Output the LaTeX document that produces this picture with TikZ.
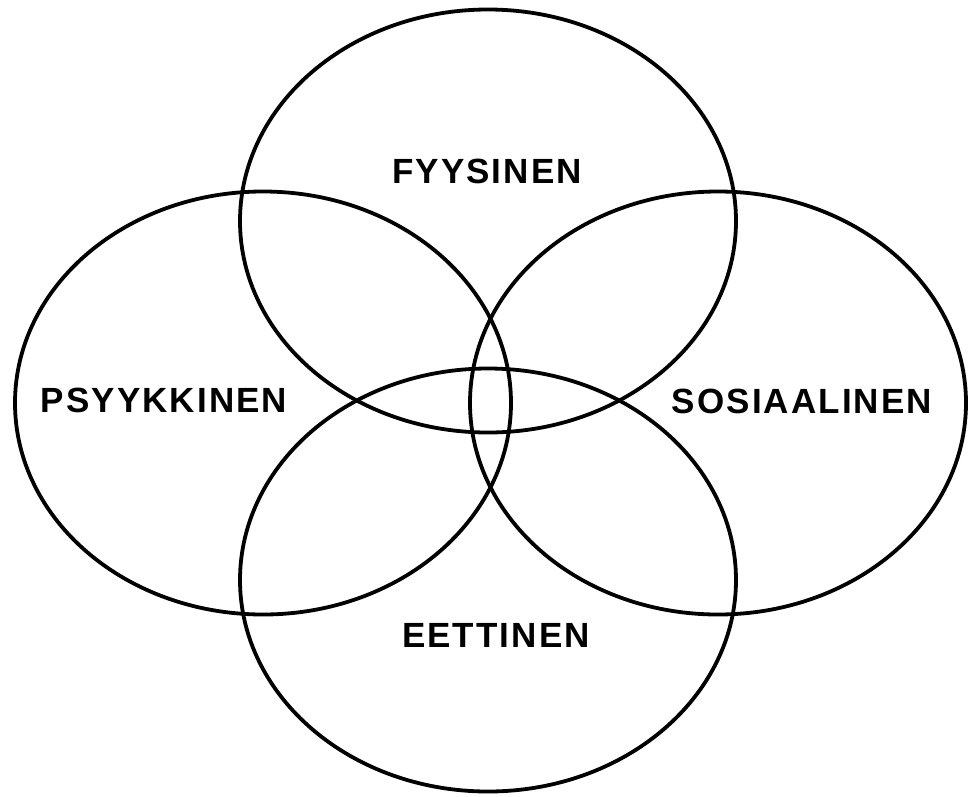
\documentclass[tikz,border=0pt]{standalone}
\usepackage{fontspec}
\setmainfont{Liberation Sans}
\usetikzlibrary{shapes.geometric}
\begin{document}
\begin{tikzpicture}[x=1pt,y=-1pt,
  ring/.style={draw=black, line width=3.8pt, ellipse, minimum width=496pt, minimum height=423pt, inner sep=0pt},
  lbl/.style={font=\fontsize{35}{37}\selectfont\bfseries\addfontfeature{LetterSpace=6}, inner sep=0pt, text=black}]
\useasboundingbox (0,0) rectangle (969,796);
\fill[white] (0,0) rectangle (969,796);
\node[ring] (top) at (488,221) {};
\node[ring] (left) at (263,403) {};
\node[ring] (right) at (718,403) {};
\node[ring] (bottom) at (488,580) {};
\node[lbl] (fyys) at (487,171) {FYYSINEN};
\node[lbl] (psyy) at (164,400) {PSYYKKINEN};
\node[lbl] (sos) at (802,401) {SOSIAALINEN};
\node[lbl] (eett) at (496,635) {EETTINEN};
\end{tikzpicture}
\end{document}
